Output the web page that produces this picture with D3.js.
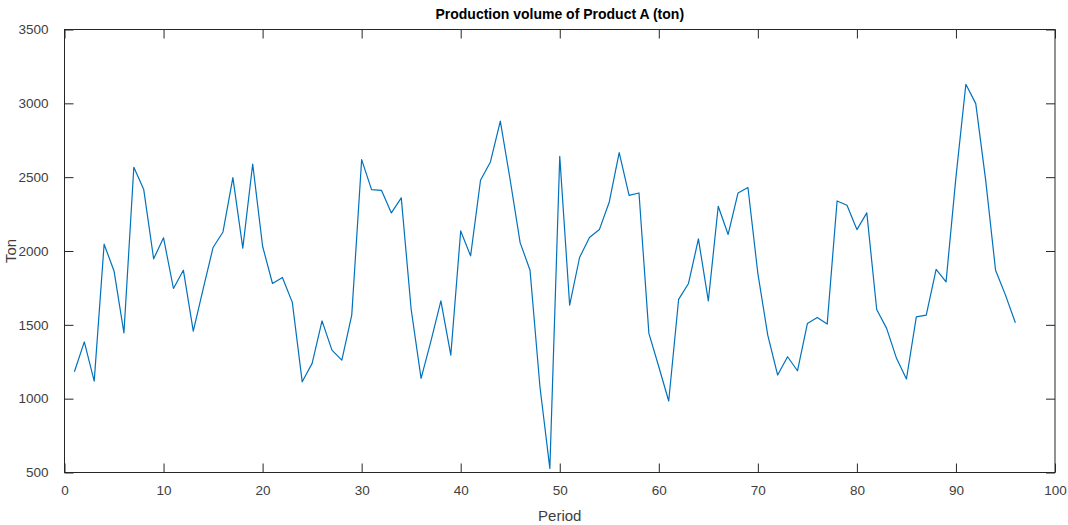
<!DOCTYPE html>
<html>
<head>
  <meta charset="UTF-8">
  <style>
    body { margin: 0; background: #fff; }
    svg { display: block; font-family: "Liberation Sans", Arial, sans-serif; }
    .tick text { fill: #404040; font-size: 13.5px; }
    .tick line, .domain { stroke: #262626; }
  </style>
</head>
<body>
  <script src="https://d3js.org/d3.v7.min.js"></script>
  <script>
    // production volume (ton) per period 1..96
    var period = d3.range(1, 97);
    var tons = [
      1182, 1385, 1119, 2046, 1865, 1446, 2567, 2416, 1947, 2089,
      1746, 1870, 1457, 1744, 2024, 2129, 2497, 2019, 2589, 2032,
      1780, 1821, 1652, 1114, 1239, 1527, 1329, 1261, 1566, 2619,
      2416, 2411, 2258, 2360, 1604, 1137, 1392, 1662, 1295, 2136,
      1967, 2479, 2603, 2880, 2479, 2057, 1870, 1081, 528, 2641,
      1633, 1956, 2091, 2145, 2332, 2666, 2377, 2393, 1442, 1216,
      984, 1672, 1780, 2082, 1662, 2303, 2112, 2393, 2430, 1848,
      1430, 1160, 1284, 1189, 1509, 1550, 1505, 2339, 2310, 2145,
      2258, 1604, 1476, 1273, 1133, 1554, 1566, 1875, 1791, 2500,
      3129, 2998, 2480, 1870, 1701, 1514
    ];
    var xTicks = d3.range(0, 101, 10);
    var yTicks = d3.range(500, 3501, 500);

    var W = 1068, H = 525;
    var m = { left: 64.5, right: 13, top: 29.5, bottom: 52.5 };

    var svg = d3.select('body').append('svg')
      .attr('width', W).attr('height', H);

    var x = d3.scaleLinear().domain([0, 100]).range([m.left, W - m.right]);
    var y = d3.scaleLinear().domain([500, 3500]).range([H - m.bottom, m.top]);

    // box
    svg.append('rect')
      .attr('x', m.left).attr('y', m.top)
      .attr('width', W - m.right - m.left).attr('height', H - m.bottom - m.top)
      .attr('fill', '#fff').attr('stroke', '#262626');

    var tl = 9;
    svg.append('g').attr('transform', 'translate(0,' + (H - m.bottom) + ')')
      .call(d3.axisBottom(x).tickValues(xTicks).tickSize(-tl).tickPadding(13).tickFormat(d3.format('d')))
      .call(function(g) { g.select('.domain').remove(); });
    svg.append('g').attr('transform', 'translate(0,' + m.top + ')')
      .call(d3.axisTop(x).tickValues(xTicks).tickSize(-tl).tickFormat(''))
      .call(function(g) { g.select('.domain').remove(); });
    svg.append('g').attr('transform', 'translate(' + m.left + ',0)')
      .call(d3.axisLeft(y).tickValues(yTicks).tickSize(-tl).tickPadding(16).tickFormat(d3.format('d')))
      .call(function(g) { g.select('.domain').remove(); });
    svg.append('g').attr('transform', 'translate(' + (W - m.right) + ',0)')
      .call(d3.axisRight(y).tickValues(yTicks).tickSize(-tl).tickFormat(''))
      .call(function(g) { g.select('.domain').remove(); });

    var line = d3.line()
      .x(function(d, i) { return x(period[i]); })
      .y(function(d) { return y(d); });

    svg.append('path')
      .datum(tons)
      .attr('d', line)
      .attr('fill', 'none')
      .attr('stroke', '#0072BD')
      .attr('stroke-width', 1.2)
      .attr('stroke-linejoin', 'round');

    svg.append('text')
      .attr('x', (m.left + W - m.right) / 2).attr('y', 19)
      .attr('text-anchor', 'middle')
      .style('font-size', '14px').style('font-weight', 'bold').style('fill', '#000')
      .text('Production volume of Product A (ton)');

    svg.append('text')
      .attr('x', (m.left + W - m.right) / 2).attr('y', 521)
      .attr('text-anchor', 'middle')
      .style('font-size', '15px').style('fill', '#404040')
      .text('Period');

    svg.append('text')
      .attr('transform', 'translate(16,' + ((m.top + H - m.bottom) / 2) + ') rotate(-90)')
      .attr('text-anchor', 'middle')
      .style('font-size', '15px').style('fill', '#404040')
      .text('Ton');
  </script>
</body>
</html>
